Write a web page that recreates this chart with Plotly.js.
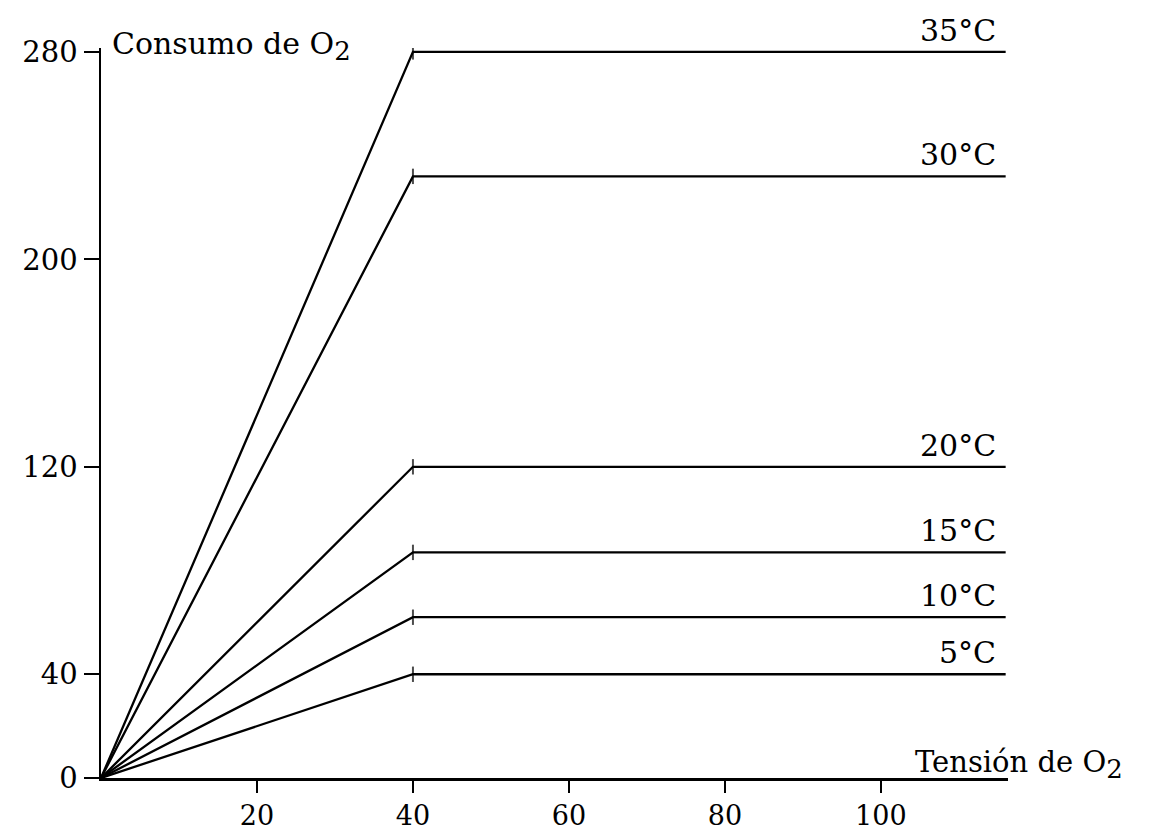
<!DOCTYPE html>
<html>
<head>
<meta charset="utf-8">
<script src="https://cdn.plot.ly/plotly-3.0.1.min.js"></script>
<style>html,body{margin:0;padding:0;background:#fff;}#chart{width:1156px;height:834px;}</style>
</head>
<body>
<div id="chart"></div>
<script>
// Data
const temperatures = ["5°C", "10°C", "15°C", "20°C", "30°C", "35°C"];
const plateauValues = [40, 62, 87, 120, 232, 280];   // O2 consumption plateau
const tensionPoints = [0, 40, 116];                  // O2 tension: origin, break point, end
const yTickVals = [0, 40, 120, 200, 280];
const xTickVals = [20, 40, 60, 80, 100];
const yAxisLabel = "Consumo de O<sub><span style='font-size:26px'>2</span></sub>";
const xAxisLabel = "Tensión de O<sub><span style='font-size:26px'>2</span></sub>";

const FONT = "DejaVu Serif, Liberation Serif, serif";

const traces = temperatures.map((t, i) => ({
  type: "scatter",
  mode: "lines+markers",
  name: t,
  x: tensionPoints,
  y: [0, plateauValues[i], plateauValues[i]],
  line: { color: "#000", width: 2.3 },
  marker: { symbol: "line-ns-open", size: [0, 11, 0], color: "#000", line: { color: "#000", width: 2 } },
  hoverinfo: "skip",
  showlegend: false
}));

const annotations = temperatures.map((t, i) => ({
  x: 115, y: plateauValues[i], xref: "x", yref: "y",
  xanchor: "right", yanchor: "bottom", yshift: 2,
  text: t, showarrow: false,
  font: { family: FONT, size: 30, color: "#000" }
}));
annotations.push({
  x: 0.01, y: 1, xref: "paper", yref: "paper", xanchor: "left", yanchor: "middle", yshift: 2,
  text: yAxisLabel, showarrow: false, font: { family: FONT, size: 30, color: "#000" }
});
annotations.push({
  x: 0.895, y: 0, xref: "paper", yref: "paper", xanchor: "left", yanchor: "bottom", yshift: -8,
  text: xAxisLabel, showarrow: false, font: { family: FONT, size: 29, color: "#000" }
});

const layout = {
  width: 1156, height: 834,
  margin: { l: 101, r: 148, t: 48, b: 56 },
  paper_bgcolor: "#fff", plot_bgcolor: "#fff",
  font: { family: FONT, size: 28, color: "#000" },
  showlegend: false,
  xaxis: {
    range: [0, 116.3], showgrid: false, zeroline: false,
    showline: true, linecolor: "#000", linewidth: 2.5,
    ticks: "outside", ticklen: 12, tickwidth: 2, tickcolor: "#000",
    tickmode: "array", tickvals: xTickVals,
    tickfont: { family: FONT, size: 27, color: "#000" }
  },
  yaxis: {
    range: [0, 281.5], showgrid: false, zeroline: false,
    showline: true, linecolor: "#000", linewidth: 2.5,
    ticks: "outside", ticklen: 15, tickwidth: 2, tickcolor: "#000",
    tickmode: "array", tickvals: yTickVals,
    tickfont: { family: FONT, size: 29, color: "#000" }
  },
  annotations: annotations
};

Plotly.newPlot("chart", traces, layout, { staticPlot: true, displayModeBar: false });
</script>
</body>
</html>
